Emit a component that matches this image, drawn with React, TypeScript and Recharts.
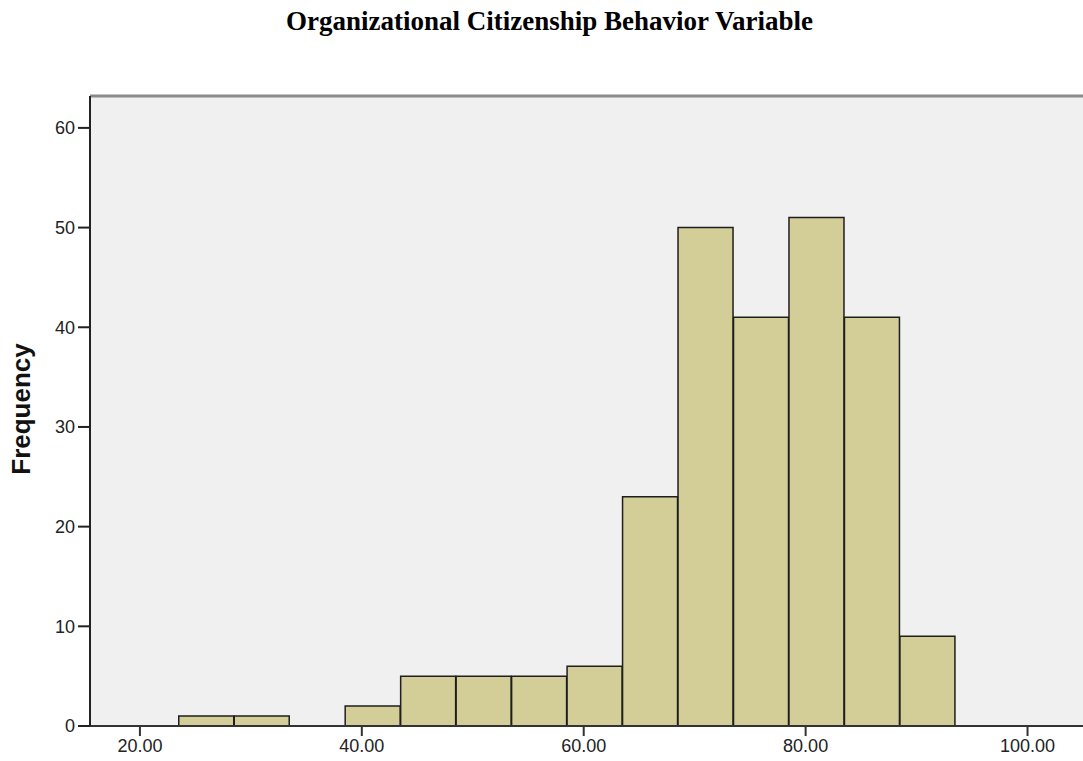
import { BarChart, Bar, XAxis, YAxis, CartesianGrid, ReferenceLine } from 'recharts';

// bin midpoints (bins are 5 wide, starting at 23.5)
const binCenters = [26, 31, 36, 41, 46, 51, 56, 61, 66, 71, 76, 81, 86, 91];
const frequencies = [1, 1, 0, 2, 5, 5, 5, 6, 23, 50, 41, 51, 41, 9];
const xTicks = [20, 40, 60, 80, 100];
const yTicks = [0, 10, 20, 30, 40, 50, 60];

const Y_MAX = 63.2;

const data = binCenters.map((x, i) => ({ x, count: frequencies[i] }));

const sans = 'Arial, "Liberation Sans", sans-serif';

export default function App() {
  return (
    <div style={{ position: 'relative', width: 1083, height: 761, background: '#fff' }}>
      <style>{'body{margin:0}'}</style>

      {/* title */}
      <div
        style={{
          position: 'absolute',
          top: 6,
          left: 8,
          width: 1083,
          textAlign: 'center',
          fontFamily: '"Times New Roman", "Liberation Serif", serif',
          fontWeight: 'bold',
          fontSize: 27,
          color: '#000',
        }}
      >
        Organizational Citizenship Behavior Variable
      </div>

      {/* y axis title */}
      <div
        style={{
          position: 'absolute',
          left: 21,
          top: 409,
          transform: 'translate(-50%, -50%) rotate(-90deg)',
          fontFamily: sans,
          fontWeight: 'bold',
          fontSize: 26,
          color: '#111',
          whiteSpace: 'nowrap',
        }}
      >
        Frequency
      </div>

      <BarChart
        width={1083}
        height={761}
        data={data}
        margin={{ top: 96, right: 0, bottom: 0, left: 0 }}
        barCategoryGap={0}
        barGap={0}
      >
        <CartesianGrid horizontal={false} vertical={false} fill="#f0f0f0" />
        <XAxis
          dataKey="x"
          type="number"
          domain={[15.5, 105]}
          ticks={xTicks}
          allowDataOverflow
          tickFormatter={(v: number) => v.toFixed(2)}
          height={35}
          tickSize={10}
          tickMargin={3}
          axisLine={{ stroke: '#333', strokeWidth: 2 }}
          tickLine={{ stroke: '#333', strokeWidth: 2 }}
          tick={{ fill: '#222', fontSize: 18, fontFamily: sans }}
        />
        <YAxis
          type="number"
          domain={[0, Y_MAX]}
          ticks={yTicks}
          allowDataOverflow
          width={90}
          tickSize={12}
          tickMargin={3}
          axisLine={{ stroke: '#222', strokeWidth: 2 }}
          tickLine={{ stroke: '#222', strokeWidth: 2 }}
          tick={{ fill: '#222', fontSize: 18, fontFamily: sans }}
        />
        <ReferenceLine y={Y_MAX} stroke="#8a8a8a" strokeWidth={3} />
        <Bar
          dataKey="count"
          fill="#d3ce97"
          stroke="#1e1e1e"
          strokeWidth={1.5}
          isAnimationActive={false}
        />
      </BarChart>
    </div>
  );
}
